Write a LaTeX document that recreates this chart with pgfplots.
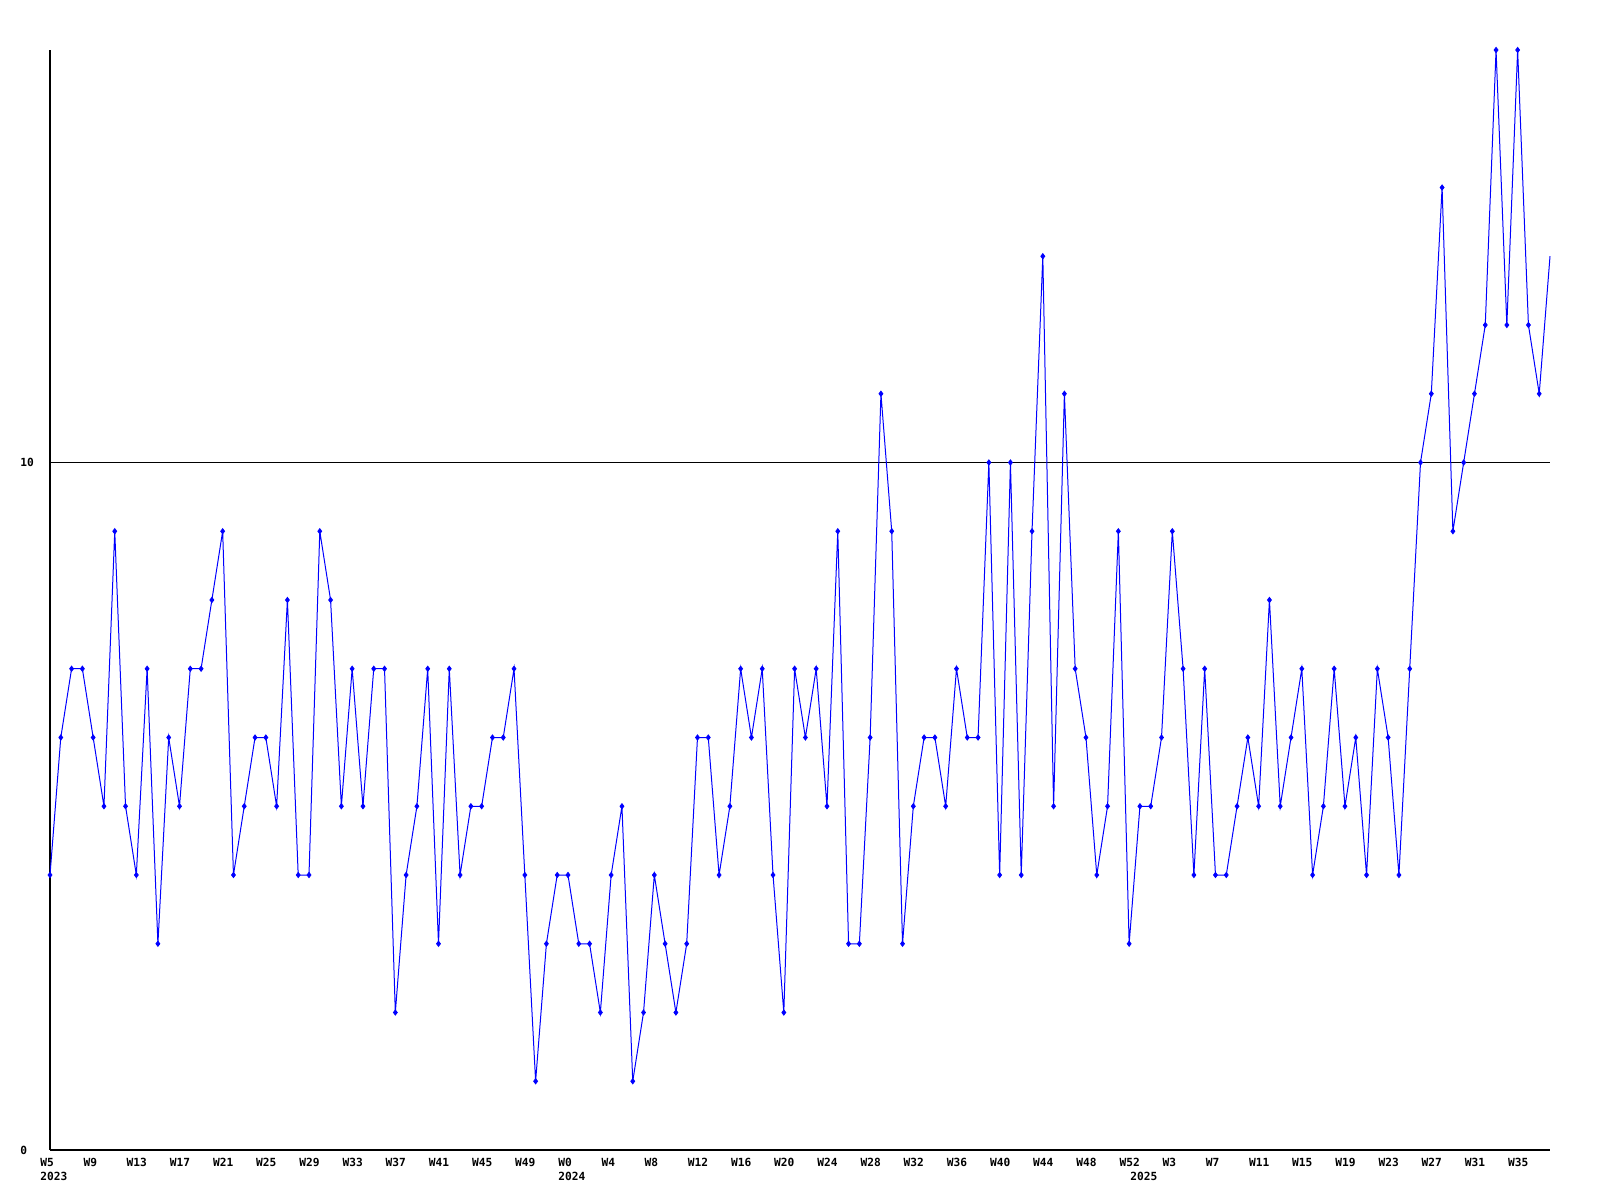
\documentclass[border=0pt]{standalone}
\usepackage{fontspec}
\setmonofont{DejaVu Sans Mono}
\usepackage{pgfplots}
\usepackage{pgfplotstable}
\pgfplotsset{compat=1.18}

% weekly counts, index 0 = 2023 W5
\pgfplotstableread{
wk v
0 4
1 6
2 7
3 7
4 6
5 5
6 9
7 5
8 4
9 7
10 3
11 6
12 5
13 7
14 7
15 8
16 9
17 4
18 5
19 6
20 6
21 5
22 8
23 4
24 4
25 9
26 8
27 5
28 7
29 5
30 7
31 7
32 2
33 4
34 5
35 7
36 3
37 7
38 4
39 5
40 5
41 6
42 6
43 7
44 4
45 1
46 3
47 4
48 4
49 3
50 3
51 2
52 4
53 5
54 1
55 2
56 4
57 3
58 2
59 3
60 6
61 6
62 4
63 5
64 7
65 6
66 7
67 4
68 2
69 7
70 6
71 7
72 5
73 9
74 3
75 3
76 6
77 11
78 9
79 3
80 5
81 6
82 6
83 5
84 7
85 6
86 6
87 10
88 4
89 10
90 4
91 9
92 13
93 5
94 11
95 7
96 6
97 4
98 5
99 9
100 3
101 5
102 5
103 6
104 9
105 7
106 4
107 7
108 4
109 4
110 5
111 6
112 5
113 8
114 5
115 6
116 7
117 4
118 5
119 7
120 5
121 6
122 4
123 7
124 6
125 4
126 7
127 10
128 11
129 14
130 9
131 10
132 11
133 12
134 16
135 12
136 16
137 12
138 11
139 13
}\counts

\begin{document}
\begin{tikzpicture}
\useasboundingbox (0,0) rectangle (800pt,600pt);
\begin{axis}[
  at={(25pt,25pt)}, anchor=south west,
  scale only axis, width=750pt, height=550pt,
  xmin=0, xmax=139, ymin=0, ymax=16,
  axis x line=bottom, axis y line=left,
  axis line style={-, line width=1pt, black},
  major tick length=0pt,
  xtick={0,4,...,136},
  xticklabels={W5,W9,W13,W17,W21,W25,W29,W33,W37,W41,W45,W49,
    W0,W4,W8,W12,W16,W20,W24,W28,W32,W36,W40,W44,W48,W52,
    W3,W7,W11,W15,W19,W23,W27,W31,W35},
  extra x ticks={0,48,101},
  extra x tick labels={2023,2024,2025},
  extra x tick style={xticklabel style={yshift=-7pt}},
  ytick={0,10},
  ymajorgrids, grid style={black, line width=0.5pt},
  tick label style={font=\ttfamily\bfseries\fontsize{5.6}{6}\selectfont, inner sep=0pt},
  xticklabel style={anchor=north west, xshift=-5pt, yshift=-4pt},
  yticklabel style={anchor=west, xshift=-15pt},
  /pgf/number format/assume math mode=true,
  clip=false,
]
\addplot[color=blue, line width=0.5pt, mark=none] table[x=wk, y=v] {\counts};
\addplot[only marks, color=blue, mark=diamond*, mark size=1.3pt,
         restrict x to domain=0:138] table[x=wk, y=v] {\counts};
\end{axis}
\end{tikzpicture}
\end{document}
